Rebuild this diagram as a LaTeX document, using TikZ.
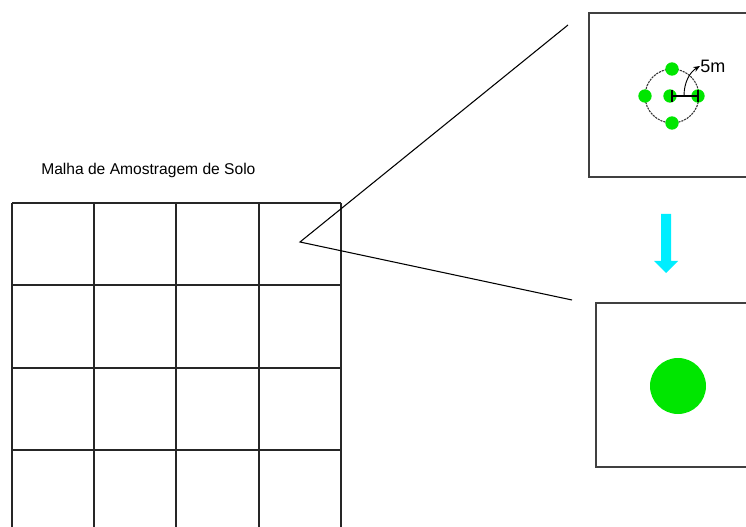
\documentclass[tikz,border=0pt]{standalone}
\usepackage{fontspec}
\setmainfont{Liberation Sans}
\usetikzlibrary{arrows.meta}
\definecolor{dotgreen}{RGB}{0,230,0}
\definecolor{arrowcyan}{RGB}{0,238,255}
\tikzset{
  gridline/.style={line width=1.1pt, black!85},
  thinline/.style={line width=0.8pt, black},
  boxline/.style={line width=0.9pt, black!75},
  gdot/.style={circle, fill=dotgreen, inner sep=0pt, minimum size=10pt},
}
\begin{document}
\begin{tikzpicture}[x=0.75pt,y=-0.75pt]
\useasboundingbox (0,0) rectangle (746,527);
% title
\node[anchor=west, inner sep=0pt, font=\fontsize{11.7pt}{13pt}\selectfont] (title) at (41,170) {Malha de Amostragem de Solo};
% grid
\foreach \x in {12,94,176,259,341} \draw[gridline] (\x,203) -- (\x,527);
\foreach \y in {203,285,368,450} \draw[gridline] (12,\y) -- (341,\y);
% zoom lines
\coordinate (apex) at (300,242);
\coordinate (topend) at (568,25);
\coordinate (botend) at (572,300);
\draw[thinline] (topend) -- (apex) -- (botend);
% top box
\draw[boxline] (748,13) -- (589,13) -- (589,177) -- (748,177);
\coordinate (c) at (672,96);
\draw[line width=0.8pt, black!80, dash pattern=on 1.6pt off 0.7pt] (c) circle[radius=27];
\node[gdot] (dtop) at (672,69) {};
\node[gdot] (dleft) at (645,96) {};
\node[gdot] (dbot) at (672,123) {};
\node[gdot] (dright) at (698,96) {};
\node[gdot] (dcenter) at (670,96) {};
\draw[line width=0.9pt] (672,96) -- (698,96);
\draw[line width=0.9pt] (672,90) -- (672,102);
\draw[line width=0.9pt] (698,90) -- (698,102);
\draw[line width=0.7pt, -{Stealth[length=5pt,width=4pt]}] (684,96) .. controls (684,82) and (690,72) .. (700,66);
\node[anchor=west, inner sep=0pt, font=\fontsize{13.5pt}{15pt}\selectfont] (lbl) at (700,66) {5m};
% cyan arrow
\fill[arrowcyan] (661,214) -- (671,214) -- (671,261) -- (678,261) -- (666,273) -- (654,261) -- (661,261) -- cycle;
% bottom box
\draw[boxline] (748,303) -- (596,303) -- (596,467) -- (748,467);
\node[circle, fill=dotgreen, inner sep=0pt, minimum size=42pt] (big) at (678,386) {};
\end{tikzpicture}
\end{document}
